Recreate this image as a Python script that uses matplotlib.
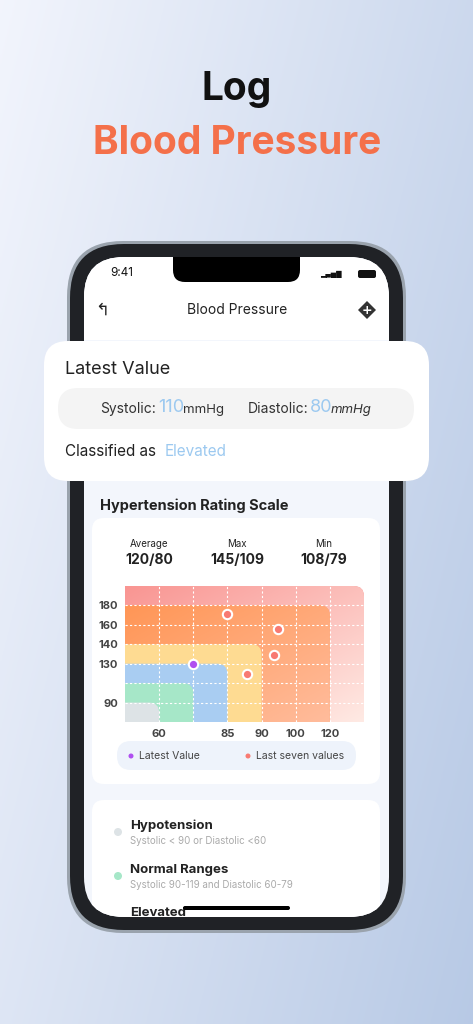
import numpy as np
import matplotlib
matplotlib.use("Agg")
import matplotlib.pyplot as plt
from matplotlib.patches import FancyBboxPatch, Rectangle, Circle

# ---- data ----
x_tick_pos = [1, 3, 4, 5, 6]
x_tick_labels = ["60", "85", "90", "100", "120"]
y_tick_pos = [1, 3, 4, 5, 6]
y_tick_labels = ["90", "130", "140", "160", "180"]
zone_names = ["Hypotension", "Normal", "Elevated", "Stage 1", "Stage 2", "Crisis"]
zone_extent = [1, 2, 3, 4, 6, 7]
zone_colors = ["#dde3e6", "#a6e7c8", "#a9cdf2", "#fedb92", "#ff9c5f", "#f99592"]
latest_x = [2.0]
latest_y = [3.0]
seven_x = [3.0, 4.47, 4.37, 3.58]
seven_y = [5.54, 4.8, 3.47, 2.49]
stats_labels = ["Average", "Max", "Min"]
stats_values = ["120/80", "145/109", "108/79"]

W, H = 473, 1024
fig = plt.figure(figsize=(W / 100, H / 100), dpi=100)
ax = fig.add_axes([0, 0, 1, 1])
ax.set_xlim(0, W); ax.set_ylim(H, 0); ax.axis("off")

xx, yy = np.meshgrid(np.linspace(0, 1, 200), np.linspace(0, 1, 400))
t = np.clip(0.65 * xx + 0.35 * yy, 0, 1)
c0 = np.array([0.95, 0.96, 0.99]); c1 = np.array([0.72, 0.79, 0.90])
img = c0 + (c1 - c0) * t[..., None]
ax.imshow(img, extent=[0, W, H, 0], aspect="auto", zorder=0)

def rbox(x0, y0, x1, y1, r, fc, ec="none", lw=0, z=1):
    p = FancyBboxPatch((x0 + r, y0 + r), x1 - x0 - 2 * r, y1 - y0 - 2 * r,
                       boxstyle=f"round,pad={r}", fc=fc, ec=ec, lw=lw, zorder=z)
    ax.add_patch(p); return p

ax.text(237, 90, "Log", ha="center", va="center", fontsize=28, fontweight="bold", color="#111111", family="Inter")
ax.text(237, 143, "Blood Pressure", ha="center", va="center", fontsize=28, fontweight="bold", color="#f4704a", family="Inter")

# phone
rbox(67, 241, 406, 933, 56, "#9aa3ad", z=1)
rbox(70, 244, 403, 930, 54, "#202226", z=1)
screen = rbox(84, 257, 389, 917, 40, "#f3f6fc", z=2)
top = rbox(84, 257, 389, 340, 40, "#ffffff", z=2)
ax.add_patch(Rectangle((84, 300), 305, 40, fc="#ffffff", zorder=2))
rbox(173, 257, 300, 282, 12, "#000000", z=3)
ax.add_patch(Rectangle((173, 257), 127, 12, fc="#000000", zorder=3))
ax.text(122, 273, "9:41", ha="center", va="center", fontsize=8.5, color="#111", family="Inter", zorder=4)
ax.text(331, 274, "▂▄▆█", ha="center", va="center", fontsize=5, color="#111", zorder=4)
rbox(358, 270, 376, 278, 2, "#111", z=4)
ax.text(237, 310, "Blood Pressure", ha="center", va="center", fontsize=10, color="#222", family="Inter", zorder=4)
ax.text(102, 310, "↰", ha="center", va="center", fontsize=12, color="#222", zorder=4)
ax.add_patch(plt.Polygon([[367, 301], [376, 310], [367, 319], [358, 310]], fc="#333", zorder=4))
ax.text(367, 310, "+", ha="center", va="center", fontsize=9, color="white", fontweight="bold", zorder=5)

# latest value card
rbox(44, 341, 429, 481, 24, "#ffffff", z=5)
ax.text(65, 369, "Latest Value", ha="left", va="center", fontsize=13, color="#222", family="Inter", zorder=6)
rbox(58, 388, 414, 429, 20, "#f4f4f4", z=6)
ax.text(100, 409, "Systolic:", ha="left", va="center", fontsize=10, color="#333", family="Inter", zorder=7)
ax.text(158, 408, "110", ha="left", va="center", fontsize=13, color="#9cc9f0", family="Inter", zorder=7)
ax.text(183, 410, "mmHg", ha="left", va="center", fontsize=9.5, color="#333", family="Inter", zorder=7)
ax.text(248, 409, "Diastolic:", ha="left", va="center", fontsize=10, color="#333", family="Inter", zorder=7)
ax.text(310, 408, "80", ha="left", va="center", fontsize=13, color="#9cc9f0", family="Inter", zorder=7)
ax.text(331, 410, "mmHg", ha="left", va="center", fontsize=9.5, color="#333", style="italic", family="Inter", zorder=7)
ax.text(65, 452, "Classified as", ha="left", va="center", fontsize=11, color="#222", family="Inter", zorder=6)
ax.text(165, 452, "Elevated", ha="left", va="center", fontsize=11, color="#9cc9f0", family="Inter", zorder=6)

# rating scale
ax.text(100, 506, "Hypertension Rating Scale", ha="left", va="center", fontsize=10.5, fontweight="bold", color="#222", family="Inter", zorder=4)
rbox(92, 518, 380, 784, 12, "#ffffff", z=3)
for xs, lab, val in zip([149, 237, 324], stats_labels, stats_values):
    ax.text(xs, 544, lab, ha="center", va="center", fontsize=7, color="#222", family="Inter", zorder=4)
    ax.text(xs, 560, val, ha="center", va="center", fontsize=10, fontweight="bold", color="#222", family="Inter", zorder=4)
rbox(117, 741, 356, 770, 14, "#eef3fb", z=4)
ax.add_patch(Circle((131, 756), 2.5, fc="#b04ff0", zorder=5))
ax.text(139, 756, "Latest Value", ha="left", va="center", fontsize=7.5, color="#444", family="Inter", zorder=5)
ax.add_patch(Circle((248, 756), 2.5, fc="#f87a72", zorder=5))
ax.text(256, 756, "Last seven values", ha="left", va="center", fontsize=7.5, color="#444", family="Inter", zorder=5)

# lower card (clipped by screen)
lc = rbox(92, 800, 380, 960, 12, "#ffffff", z=3)
lc.set_clip_path(screen)
items = [("Hypotension", "Systolic < 90 or Diastolic <60", "#dde3e6", 826),
         ("Normal Ranges", "Systolic 90-119 and Diastolic 60-79", "#a6e7c8", 870),
         ("Elevated", "", "#a9cdf2", 913)]
for name, sub, col, yy0 in items:
    if sub:
        ax.add_patch(Circle((118, yy0 + 6), 4, fc=col, zorder=4))
        ax.text(130, yy0 + 15, sub, ha="left", va="center", fontsize=7, color="#aaa", family="Inter", zorder=4)
    tx = ax.text(130, yy0, name, ha="left", va="center", fontsize=9.5, fontweight="bold", color="#222", family="Inter", zorder=4)
    tx.set_clip_path(screen)
rbox(183, 906, 290, 910, 2, "#000000", z=6)

# chart
cax = fig.add_axes([125 / W, 1 - 722 / H, 239 / W, 136 / H])
for s in cax.spines.values(): s.set_visible(False)
asp = (239 / 7) / (136 / 7)

def grad_img(c_a, c_b):
    gx, gy = np.meshgrid(np.linspace(0, 1, 100), np.linspace(0, 1, 100))
    tt = np.clip(0.5 * gx + 0.5 * gy, 0, 1)[..., None]
    a = np.array(matplotlib.colors.to_rgb(c_a)); b = np.array(matplotlib.colors.to_rgb(c_b))
    return a + (b - a) * tt

n = len(zone_extent)
for i in range(n - 1, -1, -1):
    e = zone_extent[i]
    z = n - i
    p = FancyBboxPatch((-2, -2), e + 2, e + 2, boxstyle="round,pad=0,rounding_size=0.3",
                       mutation_aspect=asp, fc=zone_colors[i], ec="none", zorder=z)
    cax.add_patch(p)
    if i == 5:
        im = cax.imshow(grad_img("#f99592", "#ffeae4"), extent=[0, 7, 0, 7], aspect="auto", zorder=z)
        im.set_clip_path(p)
    if i == 4:
        im = cax.imshow(grad_img("#ff9656", "#ffbc9c"), extent=[0, 6, 0, 6], aspect="auto", zorder=z)
        im.set_clip_path(p)
cax.set_xlim(0, 7); cax.set_ylim(0, 7)
for k in range(1, 7):
    cax.axvline(k, color="white", lw=0.8, ls=(0, (2, 2)), zorder=10)
    cax.axhline(k, color="white", lw=0.8, ls=(0, (2, 2)), zorder=10)
cax.scatter(seven_x, seven_y, s=45, c="#f87a72", edgecolors="white", linewidths=1.5, zorder=12)
cax.scatter(latest_x, latest_y, s=45, c="#b04ff0", edgecolors="white", linewidths=1.5, zorder=12)
cax.set_xticks(x_tick_pos); cax.set_xticklabels(x_tick_labels)
cax.set_yticks(y_tick_pos); cax.set_yticklabels(y_tick_labels)
cax.tick_params(length=0, labelsize=8, labelcolor="#444", pad=5)
for lab in cax.get_xticklabels() + cax.get_yticklabels():
    lab.set_fontweight("bold"); lab.set_family("Inter")

fig.savefig("out.png", dpi=100)
